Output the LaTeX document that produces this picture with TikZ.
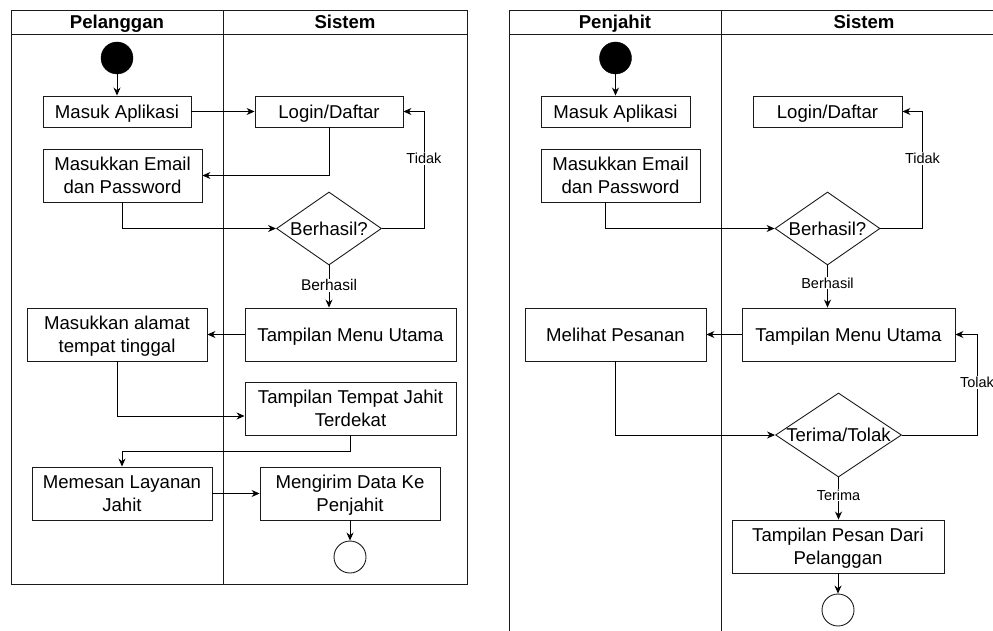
\documentclass[tikz,border=0pt]{standalone}
\usepackage{fontspec}
\setmainfont{Liberation Sans}
\usetikzlibrary{shapes.geometric, arrows.meta}

\newcommand\boxFont{\fontsize{18.6pt}{23pt}\selectfont}
\newcommand\lblFont{\fontsize{14.5pt}{17pt}\selectfont}

\begin{document}
\begin{tikzpicture}[x=1pt, y=-1pt,
    lane/.style={draw=borderColour, line width=1pt},
    head/.style={font=\boxFont\bfseries, inner sep=0pt, anchor=base},
    box/.style={draw=borderColour, line width=0.9pt, rectangle, inner sep=0pt, align=center, font=\boxFont, text depth=0pt},
    choice/.style={draw=borderColour, line width=0.9pt, diamond, inner sep=0pt, font=\boxFont},
    startdot/.style={circle, fill=black, draw=black, inner sep=0pt, minimum size=32pt},
    enddot/.style={circle, draw=borderColour, line width=0.9pt, fill=white, inner sep=0pt, minimum size=32pt},
    flow/.style={->, line width=0.9pt},
    lbl/.style={fill=white, inner sep=1pt, font=\lblFont},
    >={Stealth[length=8pt, width=7pt]}]
    \definecolor{borderColour}{HTML}{1A1A1A}

    % Page size and clipping
    \useasboundingbox (0,0) rectangle (993,631);
    \clip (0,0) rectangle (993,631);

    % Swimlanes: Pelanggan / Sistem
    \draw[lane] (11,11) rectangle (467,584);
    \draw[lane] (11,35) -- (467,35);
    \draw[lane] (223,11) -- (223,584);
    \node[head] (laneA) at (117,29) {Pelanggan};
    \node[head] (laneB) at (345,29) {Sistem};

    % Swimlanes: Penjahit / Sistem
    \draw[lane] (509,11) rectangle (1007,650);
    \draw[lane] (509,35) -- (1007,35);
    \draw[lane] (721,11) -- (721,650);
    \node[head] (laneC) at (615,29) {Penjahit};
    \node[head] (laneD) at (864,29) {Sistem};

    % Activities of the left diagram
    \node[startdot] (startL) at (117,58) {};
    \node[box, minimum width=148pt, minimum height=31pt] (masukL) at (117,111.5) {Masuk Aplikasi};
    \node[box, minimum width=148pt, minimum height=31pt] (loginL) at (329,111.5) {Login/Daftar};
    \node[box, minimum width=159pt, minimum height=53pt] (emailL) at (122.5,175.5) {Masukkan Email\\dan Password};
    \node[choice, minimum width=105pt, minimum height=73pt, aspect=1.44] (cekL) at (329,228.5) {Berhasil?};
    \node[box, minimum width=211pt, minimum height=53pt] (menuL) at (350.5,334.5) {Tampilan Menu Utama};
    \node[box, minimum width=180pt, minimum height=53pt] (alamatL) at (117,334.5) {Masukkan alamat\\tempat tinggal};
    \node[box, minimum width=211pt, minimum height=53pt] (dekatL) at (350.5,408.5) {Tampilan Tempat Jahit\\Terdekat};
    \node[box, minimum width=180pt, minimum height=53pt] (pesanL) at (122,493.5) {Memesan Layanan\\Jahit};
    \node[box, minimum width=180pt, minimum height=53pt] (kirimL) at (350,493.5) {Mengirim Data Ke\\Penjahit};
    \node[enddot] (endL) at (350,557) {};

    % Flow of the left diagram
    \draw[flow] (startL) -- (masukL);
    \draw[flow] (masukL) -- (loginL);
    \draw[flow] (loginL) |- (emailL);
    \draw[flow] (emailL) |- (cekL);
    \draw[flow] (cekL.east) -- ++(42,0) |- node[lbl, pos=0.3] {Tidak} (loginL.east);
    \draw[flow] (cekL.south) -- node[lbl, pos=0.47, font=\fontsize{15.5pt}{18pt}\selectfont] {Berhasil} (cekL.south |- menuL.north);
    \draw[flow] (menuL) -- (alamatL);
    \draw[flow] (alamatL) |- ([yshift=-7.5pt]dekatL.west);
    \draw[flow] (dekatL.south) -- ++(0,16) -| (pesanL.north);
    \draw[flow] (pesanL) -- (kirimL);
    \draw[flow] (kirimL) -- (endL);

    % Activities of the right diagram
    \node[startdot] (startR) at (615.5,58) {};
    \node[box, minimum width=149pt, minimum height=31pt] (masukR) at (615.5,111.5) {Masuk Aplikasi};
    \node[box, minimum width=149pt, minimum height=31pt] (loginR) at (827.5,111.5) {Login/Daftar};
    \node[box, minimum width=159pt, minimum height=53pt] (emailR) at (620.5,175.5) {Masukkan Email\\dan Password};
    \node[choice, minimum width=105pt, minimum height=73pt, aspect=1.44] (cekR) at (827.5,228.5) {Berhasil?};
    \node[box, minimum width=213pt, minimum height=53pt] (menuR) at (848.5,334.5) {Tampilan Menu Utama};
    \node[box, minimum width=181pt, minimum height=53pt] (lihatR) at (615.5,334.5) {Melihat Pesanan};
    \node[choice, minimum width=126pt, minimum height=84pt, aspect=1.5] (putusR) at (838.5,435) {Terima/Tolak};
    \node[box, minimum width=212pt, minimum height=53pt] (tampilR) at (838,546.5) {Tampilan Pesan Dari\\Pelanggan};
    \node[enddot] (endR) at (838,610) {};

    % Flow of the right diagram
    \draw[flow] (startR) -- (masukR);
    \draw[flow] ([xshift=-15pt]emailR.south) |- (cekR);
    \draw[flow] (cekR.east) -- ++(42,0) |- node[lbl, pos=0.3] {Tidak} (loginR.east);
    \draw[flow] (cekR.south) -- node[lbl, pos=0.42] {Berhasil} (cekR.south |- menuR.north);
    \draw[flow] (menuR) -- (lihatR);
    \draw[flow] (lihatR) |- (putusR);
    \draw[flow] (putusR.east) -- ++(75,0) |- node[lbl, pos=0.26] {Tolak} (menuR.east);
    \draw[flow] (putusR.south) -- node[lbl, pos=0.42] {Terima} (putusR.south |- tampilR.north);
    \draw[flow] (tampilR) -- (endR);

\end{tikzpicture}
\end{document}
